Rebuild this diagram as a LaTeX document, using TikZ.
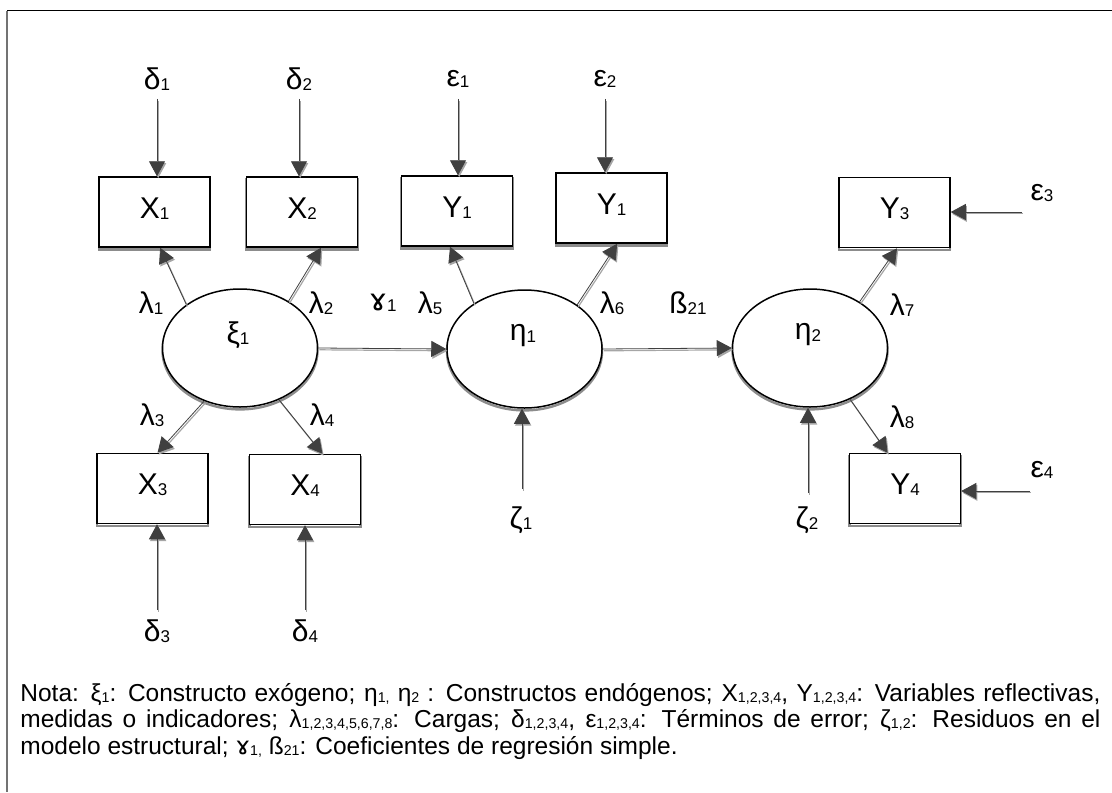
\documentclass[tikz,border=0pt]{standalone}
\usepackage{fontspec}
\setmainfont{Liberation Sans}
\newfontfamily\ipafont{DejaVu Sans}
\usetikzlibrary{arrows.meta,shapes.geometric}

% subscripts for diagram labels and for the note
\newcommand{\lsub}[1]{\raisebox{-0.6pt}{\fontsize{8.5}{10}\selectfont #1}}
\newcommand{\nsub}[1]{\raisebox{-0.4pt}{\fontsize{7.1}{8}\selectfont #1}}
\newcommand{\ramshorn}{{\ipafont ɤ}}

\begin{document}
\begin{tikzpicture}[x=0.5pt,y=-0.5pt,
  lbl/.style={font=\fontsize{15}{18}\selectfont, inner sep=1pt},
  obs/.style={draw, line width=0.75pt, fill=white, rectangle,
    minimum width=55.5pt, minimum height=35pt, inner sep=0pt,
    text height=11pt, text depth=5pt, font=\fontsize{15}{18}\selectfont,
    preaction={draw=black!45, line width=1.2pt, transform canvas={yshift=-1.2pt}}},
  lat/.style={ellipse, draw, line width=0.75pt, fill=white,
    minimum width=77.5pt, minimum height=59pt, inner sep=0pt,
    preaction={draw=black!45, line width=1.2pt, transform canvas={yshift=-1.2pt}}},
  tip/.style={-{Triangle[length=7.5pt,width=8pt]}},
  arr/.style={draw=black!75, line width=0.4pt, tip,
    preaction={draw=black!35, line width=0.6pt, tip, transform canvas={shift={(0.6pt,-0.9pt)}}}},
  frameline/.style={line width=0.5pt}
]
\useasboundingbox (0,0) rectangle (1112,792);

% outer frame (top and left edges)
\draw[frameline, black] (7,11) -- (1112,11);
\draw[line width=1pt, black!55] (7,11) -- (7,792);

% observed variables
\node[obs] (X1) at (154.5,212) {X\lsub{1}};
\node[obs] (X2) at (302,212) {X\lsub{2}};
\node[obs] (Y1a) at (457,211) {Y\lsub{1}};
\node[obs] (Y1b) at (611.5,208) {Y\lsub{1}};
\node[obs] (Y3) at (894.5,212.5) {Y\lsub{3}};
\node[obs] (X3) at (152.5,488.5) {X\lsub{3}};
\node[obs] (X4) at (305,489.5) {X\lsub{4}};
\node[obs] (Y4) at (905,488.5) {Y\lsub{4}};

% latent constructs
\node[lat] (xi) at (240,348) {};
\node[lat] (eta1) at (524.5,349) {};
\node[lat] (eta2) at (810,348) {};
\node[lbl] (xit) at (238,335) {ξ\lsub{1}};
\node[lbl] (eta1t) at (523,336) {η\lsub{1}};
\node[lbl] (eta2t) at (808,335) {η\lsub{2}};

% error terms
\node[lbl] (d1) at (157,79) {δ\lsub{1}};
\node[lbl] (d2) at (299,79) {δ\lsub{2}};
\node[lbl] (e1) at (458,79) {ε\lsub{1}};
\node[lbl] (e2) at (605,79) {ε\lsub{2}};
\node[lbl] (e3) at (1042,193) {ε\lsub{3}};
\node[lbl] (e4) at (1042,470) {ε\lsub{4}};
\node[lbl] (d3) at (157,631) {δ\lsub{3}};
\node[lbl] (d4) at (305,631) {δ\lsub{4}};
\node[lbl] (z1) at (521,520) {ζ\lsub{1}};
\node[lbl] (z2) at (807,520) {ζ\lsub{2}};

% free ends of the error arrows
\coordinate (d1s) at (157,99);
\coordinate (d2s) at (299,99);
\coordinate (e1s) at (458,99);
\coordinate (e2s) at (605,99);
\coordinate (e3s) at (1022,212);
\coordinate (e4s) at (1030,491);
\coordinate (d3s) at (157,610);
\coordinate (d4s) at (305,610);
\coordinate (z1s) at (522,489);
\coordinate (z2s) at (808,493);

% coefficient labels
\node[lbl] (l1) at (151,303) {λ\lsub{1}};
\node[lbl] (l2) at (321,303) {λ\lsub{2}};
\node[lbl] (g1) at (383,303) {\ramshorn\lsub{1}};
\node[lbl] (l5) at (430,303) {λ\lsub{5}};
\node[lbl] (l6) at (612,303) {λ\lsub{6}};
\node[lbl] (b21) at (688,303) {ß\lsub{21}};
\node[lbl] (l7) at (902,305) {λ\lsub{7}};
\node[lbl] (l3) at (152,415) {λ\lsub{3}};
\node[lbl] (l4) at (322,415) {λ\lsub{4}};
\node[lbl] (l8) at (902,417) {λ\lsub{8}};

% error arrows
\draw[arr] (d1s) -- (d1s |- X1.north);
\draw[arr] (d2s) -- (d2s |- X2.north);
\draw[arr] (e1s) -- (e1s |- Y1a.north);
\draw[arr] (e2s) -- (e2s |- Y1b.north);
\draw[arr] (e3s) -- (e3s -| Y3.east);
\draw[arr] (e4s) -- (e4s -| Y4.east);
\draw[arr] (d3s) -- (d3s |- X3.south);
\draw[arr] (d4s) -- (d4s |- X4.south);
\draw[arr] (z1s) -- (z1s |- eta1.south);
\draw[arr] (z2s) -- (z2s |- eta2.south);

% loadings
\draw[arr] (xi.141.7) -- (X1.-81);
\draw[arr] (xi.44.4) -- (X2.-62.8);
\draw[arr] (xi.-124.6) -- (X3.82.8);
\draw[arr] (xi.-53) -- (X4.64.4);
\draw[arr] (eta1.138.9) -- (Y1a.-101.3);
\draw[arr] (eta1.40.3) -- (Y1b.-81);
\draw[arr] (eta2.43.8) -- (Y3.-86);
\draw[arr] (eta2.-52.4) -- (Y4.116.9);

% structural paths
\draw[arr] (xi.east) -- (eta1.west);
\draw[arr] (eta1.east) -- (eta2.west);

% note
\node[anchor=north west, inner sep=0pt, text width=540pt, align=justify,
      font=\fontsize{12.25}{13.2}\selectfont] (nota) at (20,683)
  {Nota: ξ\nsub{1}: Constructo exógeno; η\nsub{1,} η\nsub{2} : Constructos endógenos; X\nsub{1,2,3,4}, Y\nsub{1,2,3,4}: Variables reflectivas,\linebreak
   medidas o indicadores; λ\nsub{1,2,3,4,5,6,7,8}: Cargas; δ\nsub{1,2,3,4}, ε\nsub{1,2,3,4}: Términos de error; ζ\nsub{1,2}: Residuos en el\linebreak
   modelo estructural; \ramshorn\nsub{1,} ß\nsub{21}: Coeficientes de regresión simple.};
\end{tikzpicture}
\end{document}
